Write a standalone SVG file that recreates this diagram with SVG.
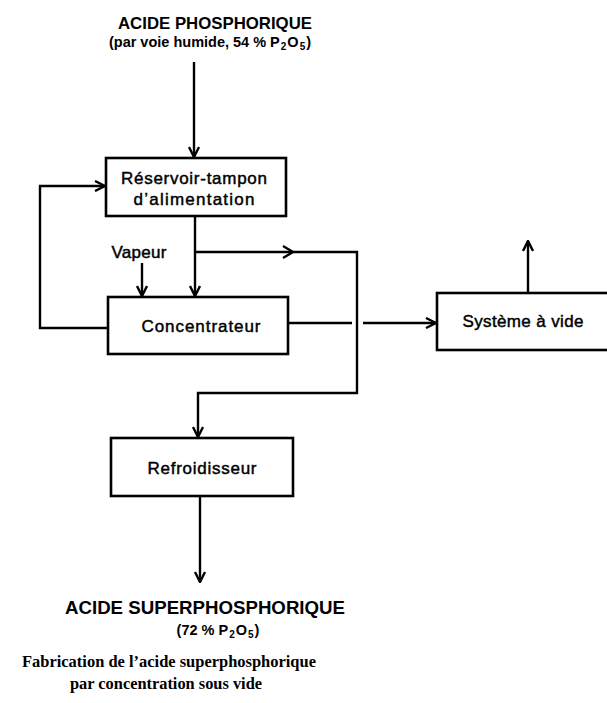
<svg xmlns="http://www.w3.org/2000/svg" width="607" height="703" viewBox="0 0 607 703">
  <defs>
    <marker id="arrow" viewBox="0 0 12 12" refX="11" refY="6" markerWidth="12" markerHeight="12" markerUnits="userSpaceOnUse" orient="auto">
      <path d="M1,1 L11,6 L1,11" fill="none" stroke="#000" stroke-width="2.4" stroke-linejoin="miter"/>
    </marker>
    <style>
      .box { fill: #fff; stroke: #000; stroke-width: 2.6; }
      .wire { fill: none; stroke: #000; stroke-width: 2.4; }
      .lbl { font-family: "Liberation Sans", Arial, sans-serif; font-size: 17px; fill: #000; stroke: #000; stroke-width: 0.45; text-anchor: middle; }
      .head { font-family: "Liberation Sans", Arial, sans-serif; font-size: 17px; font-weight: bold; fill: #000; text-anchor: middle; }
      .head.small { font-size: 14.5px; }
      .head.big { font-size: 18px; }
      .cap { font-family: "Liberation Serif", "Times New Roman", serif; font-size: 16.5px; font-weight: bold; fill: #000; text-anchor: middle; }
      .sub { font-size: 10px; }
    </style>
  </defs>

  <!-- connectors -->
  <g id="connectors">
    <path class="wire" d="M194,62 V157" marker-end="url(#arrow)"/>
    <path class="wire" d="M108,328 H40 V186 H105" marker-end="url(#arrow)"/>
    <path class="wire" d="M195,216 V296" marker-end="url(#arrow)"/>
    <path class="wire" d="M195,252 H357 V393 H198 V437" marker-end="url(#arrow)"/>
    <path class="wire" d="M283,246 L293,252 L283,258"/>
    <path class="wire" d="M142,263 V296" marker-end="url(#arrow)"/>
    <path class="wire" d="M288,323 H352"/>
    <path class="wire" d="M363,323 H436" marker-end="url(#arrow)"/>
    <path class="wire" d="M528,293 V241" marker-end="url(#arrow)"/>
    <path class="wire" d="M200,496 V582" marker-end="url(#arrow)"/>
  </g>

  <!-- feed label -->
  <g id="feed">
    <text class="head" x="215" y="29" textLength="194" lengthAdjust="spacingAndGlyphs">ACIDE PHOSPHORIQUE</text>
    <text class="head small" x="210" y="47">(par voie humide, 54 % P<tspan class="sub" dx="1" dy="3">2</tspan><tspan dx="1" dy="-3">O</tspan><tspan class="sub" dx="1" dy="3">5</tspan><tspan dx="1" dy="-3">)</tspan></text>
  </g>

  <g id="reservoir">
    <rect class="box" x="106" y="158" width="180" height="58"/>
    <text class="lbl" x="194" y="184" textLength="146" lengthAdjust="spacing">Réservoir-tampon</text>
    <text class="lbl" x="194" y="205" textLength="121" lengthAdjust="spacing">d’alimentation</text>
  </g>

  <g id="vapeur">
    <text class="lbl" x="139" y="258" textLength="55" lengthAdjust="spacing">Vapeur</text>
  </g>

  <g id="concentrateur">
    <rect class="box" x="108" y="297" width="180" height="57"/>
    <text class="lbl" x="201" y="332" textLength="119" lengthAdjust="spacing">Concentrateur</text>
  </g>

  <g id="systeme-vide">
    <rect class="box" x="437" y="293" width="190" height="57"/>
    <text class="lbl" x="523" y="327" textLength="121" lengthAdjust="spacing">Système à vide</text>
  </g>

  <g id="refroidisseur">
    <rect class="box" x="111" y="438" width="182" height="58"/>
    <text class="lbl" x="202" y="474" textLength="109" lengthAdjust="spacing">Refroidisseur</text>
  </g>

  <!-- product label -->
  <g id="product">
    <text class="head big" x="205" y="614" textLength="280" lengthAdjust="spacingAndGlyphs">ACIDE SUPERPHOSPHORIQUE</text>
    <text class="head small" x="218" y="635">(72 % P<tspan class="sub" dx="1" dy="3">2</tspan><tspan dx="1" dy="-3">O</tspan><tspan class="sub" dx="1" dy="3">5</tspan><tspan dx="1" dy="-3">)</tspan></text>
  </g>

  <!-- caption -->
  <g id="caption">
    <text class="cap" x="169" y="667" textLength="294" lengthAdjust="spacingAndGlyphs">Fabrication de l’acide superphosphorique</text>
    <text class="cap" x="166" y="689" textLength="192" lengthAdjust="spacingAndGlyphs">par concentration sous vide</text>
  </g>
</svg>
